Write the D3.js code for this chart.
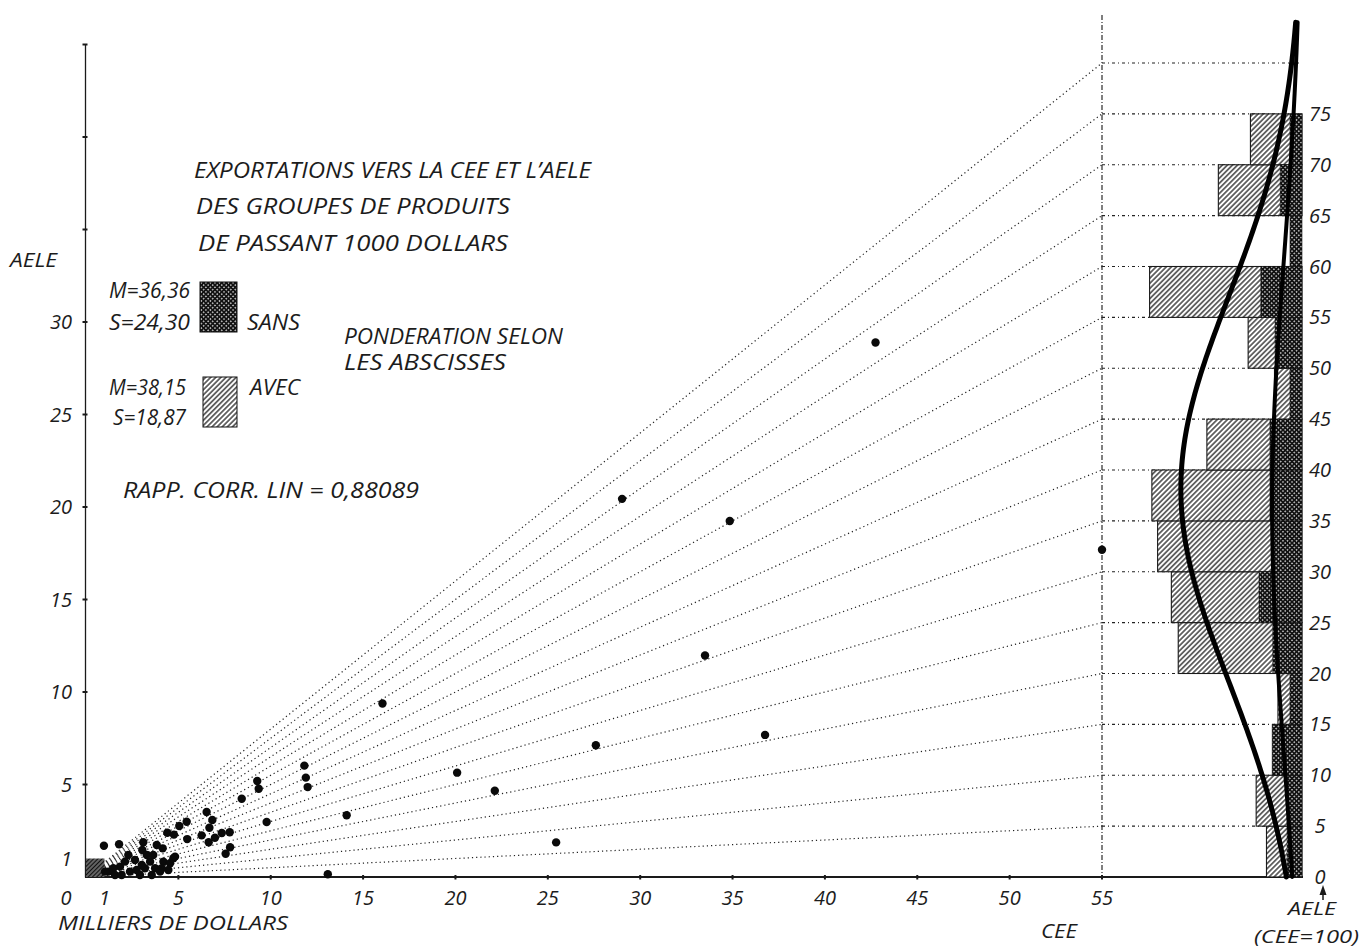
<!DOCTYPE html>
<html><head><meta charset="utf-8">
<script src="https://cdn.jsdelivr.net/npm/d3@7"></script>
<style>
html,body{margin:0;padding:0;background:#fff;}
svg{display:block;}
text{font-family:"Open Sans","Liberation Sans",sans-serif;font-style:italic;fill:#1c1c1c;}
</style></head><body>
<svg id="chart" width="1363" height="949"></svg>
<script>
// ---------------- DATA ----------------
// scatter: exports to CEE (x) and AELE (y), thousands of dollars
const ceeValues = [42.74,29.02,34.85,55.0,33.51,16.05,36.76,27.6,20.09,22.13,25.45,14.11,13.09,
  11.82,11.9,12.0,9.27,9.35,8.43,9.78,6.53,6.84,6.68,6.26,6.64,6.98,7.35,7.78,7.8,7.56,
  5.45,5.05,5.48,4.4,4.76,4.15,4.19,4.55,4.73,4.46,0.97,1.79,3.1,3.05,
  2.29,2.65,2.11,1.84,1.48,1.21,1.57,1.93,2.38,2.74,2.92,3.19,3.47,3.29,3.64,3.74,4.1,4.82,3.56,3.02,1.03,3.83,4.01];
const aeleValues = [28.89,20.44,19.24,17.69,11.97,9.38,7.68,7.12,5.64,4.66,1.87,3.34,0.15,
  6.02,5.37,4.86,5.19,4.77,4.23,2.97,3.51,3.08,2.66,2.25,1.88,2.12,2.38,2.42,1.61,1.26,
  2.99,2.76,2.05,2.39,2.29,1.55,0.83,0.74,1.01,0.38,1.69,1.77,1.88,1.46,
  1.19,0.92,0.83,0.56,0.47,0.29,0.11,0.11,0.29,0.38,0.11,0.47,0.83,1.19,1.19,0.47,0.47,1.1,0.11,0.65,0.29,1.73,0.29];
// histogram of AELE/CEE ratio (CEE = 100), bins of 5
const binStarts   = [0,5,10,15,20,25,30,35,40,45,50,55,60,65,70,75];
const avecPercent = [3.1,4.0,2.4,2.1,10.8,11.4,12.6,13.1,8.3,2.4,4.7,13.3,0,7.3,4.5,0];
const sansPercent = [4.1,4.1,8.2,3.3,8.0,11.8,8.2,8.8,8.8,3.3,7.4,11.3,3.3,6.0,3.3,0];
const avecMean = 38.15, avecSd = 18.87;
const sansMean = 36.36, sansSd = 24.30;
const corrCoef = "0,88089";
// axes
const xTickValues = [5,10,15,20,25,30,35,40,45,50,55];
const xLabelValues = [1,5,10,15,20,25,30,35,40,45,50,55];
const yTickValues = [5,10,15,20,25,30,35,40,45];
const yLabelValues = [1,5,10,15,20,25,30];
const rayRatios = [5,10,15,20,25,30,35,40,45,50,55,60,65,70,75,80];
const ratioLabelValues = [0,5,10,15,20,25,30,35,40,45,50,55,60,65,70,75];

// ---------------- LAYOUT ----------------
const svg = d3.select("#chart");
const x = d3.scaleLinear().domain([0,55]).range([86,1102]);
const y = d3.scaleLinear().domain([0,45]).range([877,44.5]);
const ceeRef = 55;
const ratioY = r => y(r*ceeRef/100);
const histRight = 1302;
const avecW = d3.scaleLinear().domain([0,10]).range([0,114.6]);
const sansW = d3.scaleLinear().domain([0,10]).range([0,36.4]);
const ink = "#1a1a1a";

// patterns
const defs = svg.append("defs");
const ph = defs.append("pattern").attr("id","hatch").attr("patternUnits","userSpaceOnUse")
  .attr("width",3.6).attr("height",3.6).attr("patternTransform","rotate(45)");
ph.append("rect").attr("width",3.6).attr("height",3.6).attr("fill","#fff");
ph.append("line").attr("x1",1.8).attr("x2",1.8).attr("y1",0).attr("y2",3.6).attr("stroke","#2a2a2a").attr("stroke-width",1.35);
const pc = defs.append("pattern").attr("id","cross").attr("patternUnits","userSpaceOnUse")
  .attr("width",3.2).attr("height",3.2).attr("patternTransform","rotate(45)");
pc.append("rect").attr("width",3.2).attr("height",3.2).attr("fill","#fff");
pc.append("line").attr("x1",1.6).attr("x2",1.6).attr("y1",0).attr("y2",3.2).attr("stroke","#111").attr("stroke-width",1.9);
pc.append("line").attr("y1",1.6).attr("y2",1.6).attr("x1",0).attr("x2",3.2).attr("stroke","#111").attr("stroke-width",1.9);
const pd = defs.append("pattern").attr("id","hatchdark").attr("patternUnits","userSpaceOnUse")
  .attr("width",3).attr("height",3).attr("patternTransform","rotate(45)");
pd.append("rect").attr("width",3).attr("height",3).attr("fill","#777");
pd.append("line").attr("x1",1.5).attr("x2",1.5).attr("y1",0).attr("y2",3).attr("stroke","#111").attr("stroke-width",1.4);

// rays from origin to the CEE=55 line
svg.append("g").selectAll("line").data(rayRatios).join("line")
  .attr("x1",x(0)).attr("y1",y(0)).attr("x2",x(ceeRef)).attr("y2",d=>ratioY(d))
  .attr("stroke","#222").attr("stroke-width",1.2).attr("stroke-dasharray","1.2,3");
// horizontal bin boundary lines
svg.append("g").selectAll("line").data(rayRatios).join("line")
  .attr("x1",x(ceeRef)).attr("x2",histRight).attr("y1",d=>ratioY(d)).attr("y2",d=>ratioY(d))
  .attr("stroke","#222").attr("stroke-width",1.1).attr("stroke-dasharray","3,3,1,3");
// CEE vertical line
svg.append("line").attr("x1",x(ceeRef)).attr("x2",x(ceeRef)).attr("y1",15).attr("y2",y(0))
  .attr("stroke","#2a2a2a").attr("stroke-width",1.2).attr("stroke-dasharray","5,2,1,2");

// axes
const yAxis = d3.axisLeft(y).tickValues(yTickValues).tickSize(0).tickFormat("");
svg.append("g").attr("transform",`translate(${x(0)-1},0)`).call(yAxis)
  .call(g=>g.select(".domain").attr("stroke",ink).attr("stroke-width",1.3));
svg.append("g").selectAll("line").data(yTickValues).join("line")
  .attr("x1",x(0)-3.5).attr("x2",x(0)+1.5).attr("y1",d=>y(d)).attr("y2",d=>y(d))
  .attr("stroke",ink).attr("stroke-width",2);
svg.append("line").attr("x1",x(0)-1).attr("x2",histRight+1).attr("y1",y(0)).attr("y2",y(0))
  .attr("stroke",ink).attr("stroke-width",1.8);
svg.append("g").selectAll("line").data(xTickValues).join("line")
  .attr("x1",d=>x(d)).attr("x2",d=>x(d)).attr("y1",y(0)-2).attr("y2",y(0)+2.5)
  .attr("stroke",ink).attr("stroke-width",2);

// excluded area (< 1000 dollars)
svg.append("rect").attr("x",x(0)).attr("y",y(1)).attr("width",x(1)-x(0)).attr("height",y(0)-y(1))
  .attr("fill","url(#hatchdark)");

// histogram bars
const bars = binStarts.map((b,i)=>({b, avec:avecPercent[i], sans:sansPercent[i]}));
svg.append("g").selectAll("rect").data(bars.filter(d=>d.avec>0)).join("rect")
  .attr("x",d=>histRight-avecW(d.avec)).attr("width",d=>avecW(d.avec))
  .attr("y",d=>ratioY(d.b+5)).attr("height",d=>ratioY(d.b)-ratioY(d.b+5))
  .attr("fill","url(#hatch)").attr("stroke",ink).attr("stroke-width",1.1);
svg.append("g").selectAll("rect").data(bars.filter(d=>d.sans>0)).join("rect")
  .attr("x",d=>histRight-sansW(d.sans)).attr("width",d=>sansW(d.sans))
  .attr("y",d=>ratioY(d.b+5)).attr("height",d=>ratioY(d.b)-ratioY(d.b+5))
  .attr("fill","url(#cross)").attr("stroke","#111").attr("stroke-width",0.6);

// fitted normal curves (per 5-unit bin, in percent)
const normPct = (r,m,s)=> 100*5/(s*Math.sqrt(2*Math.PI))*Math.exp(-0.5*((r-m)/s)**2);
const rs = d3.range(0,84.1,0.5);
const line = d3.line().curve(d3.curveBasis);
svg.append("path").attr("d",line(rs.map(r=>[histRight-sansW(normPct(r,sansMean,sansSd)),ratioY(r)])))
  .attr("fill","none").attr("stroke","#000").attr("stroke-width",4).attr("stroke-linecap","round");
svg.append("path").attr("d",line(rs.map(r=>[histRight-avecW(normPct(r,avecMean,avecSd)),ratioY(r)])))
  .attr("fill","none").attr("stroke","#000").attr("stroke-width",5).attr("stroke-linecap","round");

// scatter points
svg.append("g").selectAll("circle").data(ceeValues.map((c,i)=>[c,aeleValues[i]])).join("circle")
  .attr("cx",d=>x(d[0])).attr("cy",d=>y(d[1])).attr("r",4.2).attr("fill","#0a0a0a");

// ---------------- TEXT ----------------
function txt(s,xp,yc,size,opts={}){
  const t = svg.append("text").attr("x",xp).attr("y",yc+size*0.36).attr("font-size",size).text(s);
  if(opts.anchor) t.attr("text-anchor",opts.anchor);
  if(opts.len){ t.attr("textLength",opts.len).attr("lengthAdjust","spacingAndGlyphs"); }
  return t;
}
// tick labels
svg.append("g").selectAll("text").data(xLabelValues).join("text")
  .attr("x",d=>x(d)).attr("y",y(0)+28).attr("text-anchor","middle").attr("font-size",20).text(d=>d);
txt("0",x(0)-20,898,20,{anchor:"middle"});
svg.append("g").selectAll("text").data(yLabelValues).join("text")
  .attr("x",72).attr("y",d=>y(d)+7).attr("text-anchor","end").attr("font-size",20).text(d=>d);
svg.append("g").selectAll("text").data(ratioLabelValues).join("text")
  .attr("x",1320).attr("y",d=>ratioY(d)+7).attr("text-anchor","middle").attr("font-size",20).text(d=>d);

txt("AELE",10,260,20,{len:47});
txt("MILLIERS DE DOLLARS",58,923,20,{len:230});
txt("CEE",1041,931,20,{len:36});
txt("AELE",1288,909,18,{len:48});
txt("(CEE=100)",1254,937,18,{len:105});
// arrow
svg.append("line").attr("x1",1323).attr("x2",1323).attr("y1",893).attr("y2",900).attr("stroke",ink).attr("stroke-width",1.5);
svg.append("path").attr("d",`M1323,885 L1319.5,895 L1326.5,895 Z`).attr("fill",ink);

txt("EXPORTATIONS VERS LA CEE ET L\u2019AELE",194,170,21,{len:397});
txt("DES  GROUPES  DE  PRODUITS",196,206,21,{len:314});
txt("DE PASSANT   1000   DOLLARS",198,243,21,{len:310});
txt("M=36,36",109,290,21,{len:81});
txt("S=24,30",109,322,21,{len:81});
txt("SANS",247,322,21,{len:53});
txt("PONDERATION  SELON",344,336,21,{len:219});
txt("LES  ABSCISSES",344,362,21,{len:162});
txt("M=38,15",109,387,21,{len:77});
txt("S=18,87",113,417,21,{len:73});
txt("AVEC",250,387,21,{len:50});
txt("RAPP. CORR. LIN  =  " + corrCoef,123,490,21,{len:296});

// legend boxes
svg.append("rect").attr("x",200).attr("y",282).attr("width",37).attr("height",50)
  .attr("fill","url(#cross)").attr("stroke","#111").attr("stroke-width",1);
svg.append("rect").attr("x",203).attr("y",377).attr("width",34).attr("height",50)
  .attr("fill","url(#hatch)").attr("stroke","#111").attr("stroke-width",1);
</script>
</body></html>
